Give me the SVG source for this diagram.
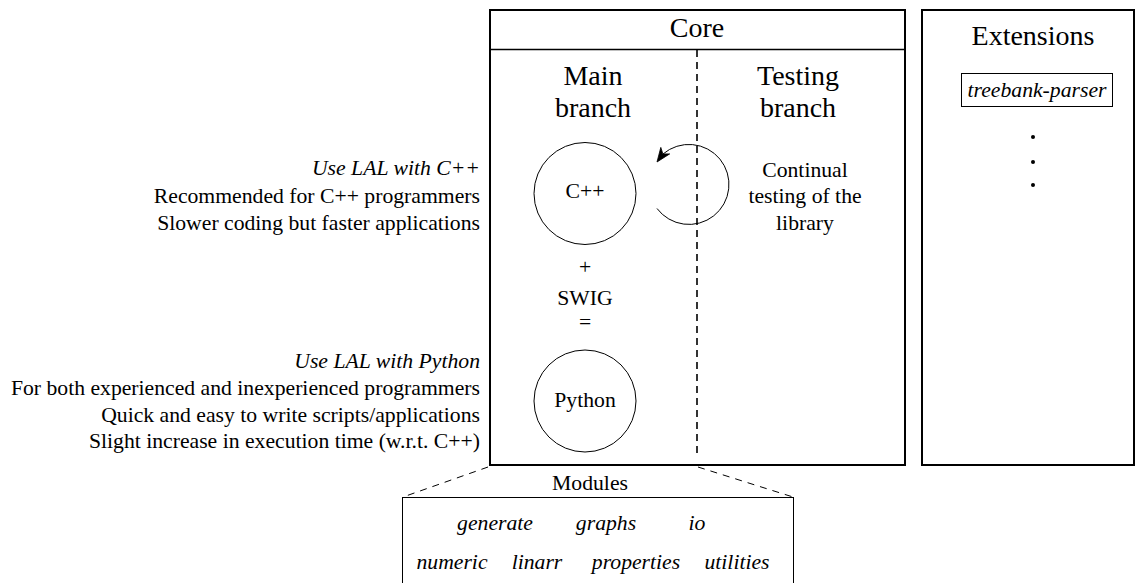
<svg xmlns="http://www.w3.org/2000/svg" width="1136" height="583" viewBox="0 0 1136 583">
<style>
text{font-family:"Liberation Serif","Times New Roman",serif;fill:#000}
.b{font-size:21.7px}
.t{font-size:28px}
.i{font-style:italic}
.m{text-anchor:middle}
.r{text-anchor:end}
.frame{fill:none;stroke:#000;stroke-width:2}
.thin{fill:none;stroke:#000;stroke-width:1}
.dash{fill:none;stroke:#000;stroke-width:1.6;stroke-dasharray:7 5}
.dash2{fill:none;stroke:#000;stroke-width:1;stroke-dasharray:7 6}
.head{fill:#000;stroke:#000;stroke-width:0.8;stroke-linejoin:miter}
</style>
<rect width="1136" height="583" fill="#fff"/>

<g id="left-notes">
<text class="b i r" x="480" y="175">Use LAL with C++</text>
<text class="b r" x="480" y="203">Recommended for C++ programmers</text>
<text class="b r" x="480" y="230">Slower coding but faster applications</text>
<text class="b i r" x="480" y="368">Use LAL with Python</text>
<text class="b r" x="480" y="395">For both experienced and inexperienced programmers</text>
<text class="b r" x="480" y="422">Quick and easy to write scripts/applications</text>
<text class="b r" x="480" y="448">Slight increase in execution time (w.r.t. C++)</text>
</g>

<g id="core">
<rect class="frame" x="490" y="10" width="415" height="455"/>
<line x1="490" y1="49.5" x2="905" y2="49.5" stroke="#000" stroke-width="1.5"/>
<text class="t m" x="697" y="37">Core</text>
<text class="t m" x="593" y="85">Main</text>
<text class="t m" x="593" y="117">branch</text>
<text class="t m" x="798" y="85">Testing</text>
<text class="t m" x="798" y="117">branch</text>
<text class="b m" x="805" y="177">Continual</text>
<text class="b m" x="805" y="203">testing of the</text>
<text class="b m" x="805" y="230">library</text>
<text class="b m" x="585" y="274">+</text>
<text class="b m" x="585" y="305">SWIG</text>
<text class="b m" x="585" y="329">=</text>
</g>

<g id="cpp">
<circle class="thin" cx="585" cy="193.5" r="51"/>
<text class="b m" x="585" y="198">C++</text>
</g>

<g id="python">
<circle class="thin" cx="585" cy="401" r="51"/>
<text class="b m" x="585" y="407">Python</text>
</g>

<g id="extensions">
<rect class="frame" x="922" y="10" width="212" height="455"/>
<text class="t m" x="1033" y="45">Extensions</text>
<g id="treebank-parser">
<rect class="thin" x="961.5" y="73.5" width="151" height="33"/>
<text class="b i m" x="1037" y="97">treebank-parser</text>
</g>
<circle cx="1033" cy="137" r="2" fill="#000"/>
<circle cx="1033" cy="162" r="2" fill="#000"/>
<circle cx="1033" cy="185" r="2" fill="#000"/>
</g>

<g id="modules">
<rect class="thin" x="402.5" y="497.5" width="391" height="100"/>
<text class="b m" x="590" y="490">Modules</text>
<text class="b i m" x="495" y="530">generate</text>
<text class="b i m" x="606" y="530">graphs</text>
<text class="b i m" x="697" y="530">io</text>
<text class="b i m" x="452" y="569">numeric</text>
<text class="b i m" x="537" y="569">linarr</text>
<text class="b i m" x="636" y="569">properties</text>
<text class="b i m" x="737" y="569">utilities</text>
</g>

<g id="connectors">
<line class="dash" x1="697" y1="50" x2="697" y2="458"/>
<path class="thin" d="M657,208.5 A40,40 0 1 0 663,154"/>
<polygon class="head" points="657,162 669.7,153.9 662.9,153.9 660.8,147.4"/>
<line class="dash2" x1="488" y1="467" x2="403" y2="497"/>
<line class="dash2" x1="698" y1="467" x2="793" y2="497"/>
</g>
</svg>
